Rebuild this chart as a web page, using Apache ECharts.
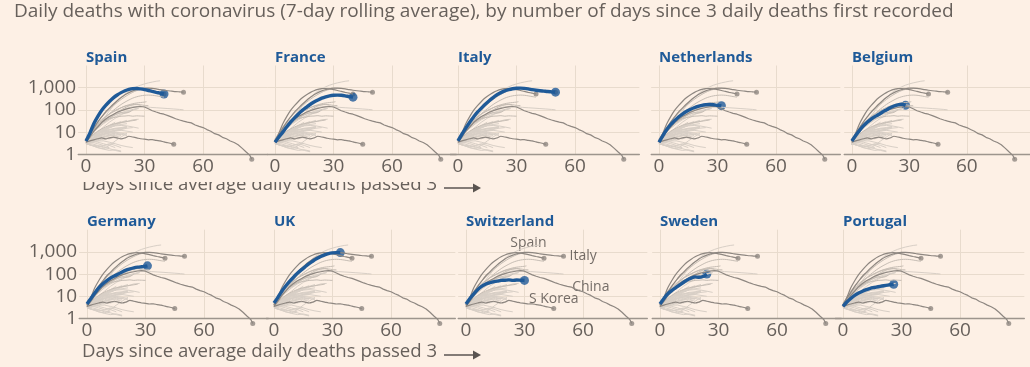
<!DOCTYPE html>
<html><head><meta charset="utf-8">
<script src="https://cdn.jsdelivr.net/npm/echarts@6/dist/echarts.min.js"></script>
<style>html,body{margin:0;padding:0;background:#fdf0e5;}#c{width:1030px;height:367px;}</style>
</head><body><div id="c"></div><script>
// ---------- DATA (days since 3 daily deaths, 7-day average deaths) ----------
const xTicks = [0, 30, 60];
const titleText = 'Daily deaths with coronavirus (7-day rolling average), by number of days since 3 daily deaths first recorded';
const axisCaption = 'Days since average daily deaths passed 3';
const focusNames = ['Spain','France','Italy','Netherlands','Belgium','Germany','UK','Switzerland','Sweden','Portugal'];

const spain = [[0,4],[2,9],[4,24],[6,50],[8,95],[10,155],[12,240],[14,350],[16,470],[18,600],[20,730],[22,840],[24,910],[26,920],[28,880],[30,820],[32,750],[34,680],[36,620],[38,570],[40,520]];
const france = [[0,3.5],[2,6],[4,10],[6,17],[8,28],[10,44],[12,66],[14,95],[16,130],[18,175],[20,225],[22,280],[24,340],[26,390],[28,430],[30,455],[32,465],[34,455],[36,430],[38,400],[40,375]];
const italy = [[0,4],[2,8],[4,15],[6,28],[8,48],[10,80],[12,120],[14,180],[16,260],[18,360],[20,480],[22,600],[24,720],[26,820],[28,900],[30,950],[32,960],[34,930],[36,880],[38,820],[40,770],[42,730],[44,700],[46,670],[48,650],[50,630]];
const netherlands = [[0,3.5],[2,7],[4,13],[6,22],[8,33],[10,48],[12,65],[14,85],[16,105],[18,125],[20,145],[22,160],[24,170],[26,175],[28,170],[30,160],[32,155]];
const belgium = [[0,4],[2,7],[4,12],[6,19],[8,28],[10,38],[12,50],[14,62],[16,80],[18,100],[20,125],[22,150],[24,170],[26,180],[28,160]];
const germany = [[0,4.5],[2,8],[4,14],[6,24],[8,36],[10,50],[12,66],[14,82],[16,100],[18,125],[20,150],[22,170],[24,190],[26,205],[28,215],[30,225],[31,235]];
const uk = [[0,5],[2,9],[4,17],[6,29],[8,47],[10,72],[12,108],[14,155],[16,215],[18,295],[20,390],[22,500],[24,620],[26,740],[28,840],[30,900],[32,925],[34,930]];
const switzerland = [[0,4.5],[2,8],[4,13],[6,20],[8,28],[10,35],[12,40],[14,45],[16,48],[18,52],[20,53],[22,55],[24,52],[26,54],[28,53],[30,52]];
const sweden = [[0,4.5],[2,8],[4,13],[6,18],[8,24],[10,32],[12,42],[14,55],[16,66],[18,75],[20,72],[22,78],[24,100]];
const portugal = [[0,3.5],[2,5.5],[4,8],[6,11],[8,14],[10,17],[12,20],[14,23],[16,25],[18,27],[20,29],[22,31],[24,33],[26,35]];

const china = [[0,3.5],[2,6],[4,11],[6,17],[8,27],[10,38],[12,50],[14,62],[16,78],[18,92],[20,105],[22,118],[24,128],[26,138],[28,142],[30,135],[32,112],[34,92],[36,80],[38,70],[40,64],[42,55],[44,47],[46,40],[48,35],[50,31],[52,28],[54,26],[56,21],[58,18],[60,16],[62,13],[64,11],[66,8.5],[68,7.5],[70,5.8],[72,5],[74,4],[76,3.4],[78,2.7],[80,1.9],[82,1.3],[84,0.9],[85,0.6]];
const sKorea = [[0,3.5],[2,4],[4,4.5],[6,5],[8,5.5],[10,5],[12,5.5],[14,6],[16,5.5],[18,5],[20,5.5],[22,6.5],[24,6],[26,5.5],[28,5],[30,4.8],[32,4.5],[34,4.6],[36,4.2],[38,4],[40,3.6],[42,3.3],[45,2.8]];
const us = [[0,3.5],[2,6],[4,10],[6,17],[8,30],[10,52],[12,90],[14,150],[16,240],[18,360],[20,520],[22,700],[24,900],[26,1100],[28,1300],[30,1480],[32,1650],[34,1800],[36,1950],[38,2050]];
const iran = [[0,3.5],[3,8],[6,15],[9,25],[12,40],[15,60],[18,90],[21,120],[24,140],[27,145],[30,140],[33,130],[36,125],[39,120],[42,115],[45,110],[48,105],[50,100]];

const canada = [[0,3],[3,6],[6,10],[9,17],[12,28],[15,42],[18,60],[21,80],[24,100],[27,120]];
const brazil = [[0,4],[3,8],[6,15],[9,24],[12,36],[15,50],[18,65],[21,80],[24,100],[27,115]];
const turkey = [[0,4],[3,9],[6,18],[9,30],[12,45],[15,60],[18,75],[21,90],[24,105],[26,115]];
const ireland = [[0,3.5],[3,5],[6,8],[9,11],[12,15],[15,20],[18,26],[21,30],[24,36],[27,38]];
const austria = [[0,3.5],[3,6],[6,10],[9,14],[12,17],[15,19],[18,20],[21,19],[24,17],[27,15]];
const denmark = [[0,3],[3,5],[6,7],[9,9],[12,11],[15,12],[18,12],[21,11],[24,10]];
const indonesia = [[0,4],[3,6],[6,9],[9,11],[12,13],[15,14],[18,13],[21,15],[24,16]];
const philippines = [[0,3],[3,5],[6,7],[9,8],[12,9],[15,10],[18,9],[21,8]];
const mexico = [[0,3],[3,5],[6,8],[9,12],[12,17],[15,22],[18,28],[21,34]];
const ecuador = [[0,3],[3,6],[6,10],[9,14],[12,17],[15,20],[18,22],[21,24]];
const india = [[0,3.5],[3,6],[6,9],[9,13],[12,18],[15,24],[18,30]];
const romania = [[0,3],[3,5],[6,8],[9,11],[12,13],[15,15],[18,16],[21,18]];
const poland = [[0,3],[3,5],[6,7],[9,10],[12,12],[15,14],[18,15],[21,17]];
const algeria = [[0,3.5],[3,6],[6,9],[9,11],[12,10],[15,9],[18,8],[21,7]];
const peru = [[0,3],[3,5],[6,8],[9,12],[12,16],[15,20]];
const dominicanRep = [[0,3],[3,4],[6,5],[9,6],[12,7],[15,7],[18,8]];
const egypt = [[0,3],[3,4],[6,5.5],[9,7],[12,8],[15,9]];
const israel = [[0,3],[3,4],[6,5],[9,6],[12,7],[15,8],[18,8]];
const norway = [[0,3],[3,3.5],[6,4],[9,4],[12,3.5],[15,3],[18,2.5],[21,2.2],[24,2]];
const japan = [[0,3],[3,2.5],[6,2],[9,1.8],[12,2.5],[15,4],[18,6],[21,9]];
const hungary = [[0,3],[3,3.5],[6,4.5],[9,6],[12,7.5],[15,9]];
const russia = [[0,3.5],[3,5],[6,8],[9,13],[12,20],[15,28]];
const greece = [[0,3],[3,2.5],[6,2],[9,1.7],[12,1.5],[15,1.6],[18,1.4]];
const finland = [[0,3],[3,2.5],[6,2.2],[9,2.5],[12,3],[15,2.5],[18,2]];
const chile = [[0,3],[3,3.5],[6,4],[9,5],[12,5],[15,6]];
const morocco = [[0,3],[3,3],[6,2.5],[9,2],[12,1.8],[15,1.5],[18,1.3]];
const colombia = [[0,3],[3,4.5],[6,6],[9,8],[12,9],[15,11],[18,12]];
const pakistan = [[0,3.5],[3,5],[6,6.5],[9,8],[12,10],[15,12],[18,14],[21,16]];
const argentina = [[0,3],[3,4],[6,5],[9,4.5],[12,5.5],[15,6],[18,7]];
const luxembourg = [[0,3],[3,4],[6,3.5],[9,3],[12,2.5],[15,2]];
const czechia = [[0,3],[3,4],[6,5],[9,6],[12,6],[15,5.5],[18,5]];
const southAfrica = [[0,3],[3,3.5],[6,3],[9,2.5],[12,2.8],[15,3.2]];
const ukraine = [[0,3],[3,4.5],[6,6],[9,8],[12,10],[15,12]];
const bosnia = [[0,3],[3,2.6],[6,2.4],[9,2.2],[12,2]];

// ---------- STYLE / LAYOUT ----------
const focusData = {Spain:spain, France:france, Italy:italy, Netherlands:netherlands, Belgium:belgium, Germany:germany, UK:uk, Switzerland:switzerland, Sweden:sweden, Portugal:portugal};
const minorLines = [us, iran, canada, brazil, turkey, ireland, austria, denmark, indonesia, philippines, mexico, ecuador, india, romania, poland, algeria, peru, dominicanRep, egypt, israel, norway, japan, hungary, russia, greece, finland, chile, morocco, colombia, pakistan, argentina, luxembourg, czechia, southAfrica, ukraine, bosnia];
const darkLines = [spain, italy, china, sKorea];

const FONT = '"Open Sans", sans-serif';
const BG = '#fdf0e5';
const BLUE = '#1f5a98';
const DARK = '#8e8781';
const LIGHT = '#c6bdb4';
const MASS = '#d8cfc6';
const GRID = '#e8dbcd';
const TEXT = '#67605b';
const PX = 1.95, XMIN = -4, XMAX = 93, DEC = 22.2;
const rowBottom = [154.3, 318.5];
const x0s = [[86,275,458,659,852],[87,274,466,660,843]];

const grids = [], xAxes = [], yAxes = [], series = [], titles = [];
focusNames.forEach((name, i) => {
  const row = Math.floor(i / 5), col = i % 5;
  const x0 = x0s[row][col];
  const bottom = rowBottom[row];
  grids.push({left: x0 + XMIN * PX, top: bottom - 4 * DEC, width: (XMAX - XMIN) * PX, height: 4 * DEC});
  titles.push({text: name, left: x0, top: bottom - 104, padding: 0, textStyle: {fontFamily: FONT, fontSize: 15, fontWeight: 'bold', color: BLUE}});
  xAxes.push({
    gridIndex: i, type: 'value', min: XMIN, max: XMAX,
    axisLine: {show: true, onZero: false, lineStyle: {color: '#9d958d', width: 1.3}},
    axisTick: {show: false, customValues: xTicks},
    axisLabel: {customValues: xTicks, fontFamily: FONT, fontSize: 19, color: TEXT, margin: 3},
    splitLine: {show: true, lineStyle: {color: GRID, width: 1}}
  });
  yAxes.push({
    gridIndex: i, type: 'log', logBase: 10, min: 1, max: 10000,
    axisLine: {show: false}, axisTick: {show: false},
    axisLabel: {show: col === 0, fontFamily: FONT, fontSize: 19, color: TEXT, margin: 2,
      formatter: v => (Math.round(v) >= 10000 ? '' : Math.round(v).toLocaleString('en-US'))},
    splitLine: {show: true, showMinLine: false, showMaxLine: false, lineStyle: {color: GRID, width: 1}}
  });
  const base = {type: 'line', xAxisIndex: i, yAxisIndex: i, showSymbol: false, silent: true, animation: false, clip: false};
  minorLines.forEach(d => series.push(Object.assign({}, base, {data: d, lineStyle: {color: MASS, width: 1}})));
  focusNames.forEach(n => {
    if (n !== name && n !== 'Spain' && n !== 'Italy') series.push(Object.assign({}, base, {data: focusData[n], smooth: 0.3, lineStyle: {color: LIGHT, width: 1}}));
  });
  darkLines.forEach(d => series.push(Object.assign({}, base, {data: d, smooth: d === china ? false : 0.3, lineStyle: {color: DARK, width: 1.2}})));
  series.push({type: 'scatter', xAxisIndex: i, yAxisIndex: i, silent: true, animation: false, clip: false,
    symbolSize: 5, itemStyle: {color: DARK}, data: darkLines.map(d => d[d.length - 1])});
  const own = focusData[name];
  series.push(Object.assign({}, base, {data: own, smooth: 0.3, lineStyle: {color: BLUE, width: 3.4}}));
  series.push({type: 'scatter', xAxisIndex: i, yAxisIndex: i, silent: true, animation: false,
    symbolSize: 9, itemStyle: {color: BLUE}, data: [own[own.length - 1]]});
  if (name === 'Switzerland') {
    const lab = (pt, text, pos, dist) => ({value: pt, name: text, label: {show: true, position: pos, distance: dist, formatter: text, fontFamily: FONT, fontSize: 14, color: '#514b47'}});
    series.push({type: 'scatter', xAxisIndex: i, yAxisIndex: i, silent: true, animation: false, clip: false, symbolSize: 0,
      data: [lab(spain[16], 'Spain', 'top', 5), lab(italy[italy.length - 1], 'Italy', 'right', 6),
             lab(china[32], 'China', 'top', 1), lab(sKorea[sKorea.length - 1], 'S Korea', 'top', 3)]});
  }
});

const arrow = (y) => [
  {type: 'line', shape: {x1: 444, y1: y, x2: 474, y2: y}, style: {stroke: '#5a5450', lineWidth: 1.5}},
  {type: 'polygon', shape: {points: [[473, y - 4.5], [481, y], [473, y + 4.5]]}, style: {fill: '#5a5450'}}
];
const graphics = [
  {type: 'text', left: 14, top: 2, style: {text: titleText, font: '19px ' + FONT, fill: TEXT}},
  {type: 'text', left: 82, top: 175, style: {text: axisCaption, font: '18.6px ' + FONT, fill: TEXT}},
  ...arrow(188),
  {type: 'rect', shape: {x: 75, y: 173, width: 420, height: 9}, style: {fill: BG}, z: 100},
  {type: 'text', left: 82, top: 342, style: {text: axisCaption, font: '18.6px ' + FONT, fill: TEXT}},
  ...arrow(355)
];

const chart = echarts.init(document.getElementById('c'), null, {renderer: 'canvas'});
chart.setOption({
  backgroundColor: BG, animation: false,
  title: titles, grid: grids, xAxis: xAxes, yAxis: yAxes, series: series, graphic: graphics
});
</script></body></html>
